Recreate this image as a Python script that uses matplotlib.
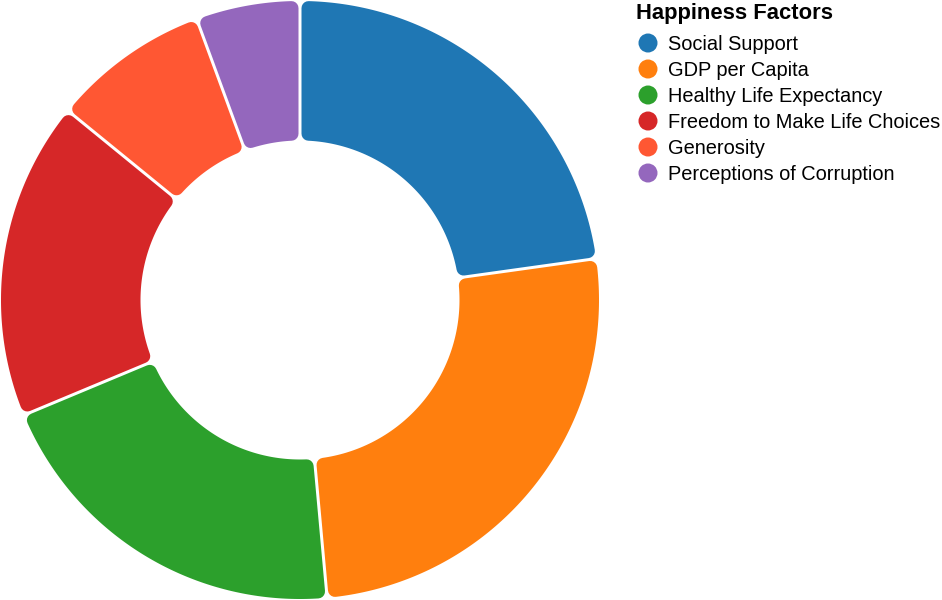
import numpy as np
import matplotlib.pyplot as plt
from matplotlib.patches import Polygon

labels = ["Social Support", "GDP per Capita", "Healthy Life Expectancy",
          "Freedom to Make Life Choices", "Generosity", "Perceptions of Corruption"]
values = [1.30, 1.47, 1.15, 0.98, 0.485, 0.32]
colors = ["#1f77b4", "#ff7f0e", "#2ca02c", "#d62728", "#ff5733", "#9467bd"]
legend_title = "Happiness Factors"

R_OUT = 299
R_IN = 159.5
CORNER = 7
GAP = 3


def rounded_sector(a1, a2, color):
    # a1, a2: clockwise degrees from 12 o'clock
    phi_hi = np.radians(90 - a1)
    phi_lo = np.radians(90 - a2)
    ro = R_OUT - CORNER
    ri = R_IN + CORNER
    d = GAP / 2 + CORNER
    do = np.arcsin(d / ro)
    di = np.arcsin(d / ri)
    t_out = np.linspace(phi_hi - do, phi_lo + do, 120)
    t_in = np.linspace(phi_lo + di, phi_hi - di, 80)
    xs = np.concatenate([ro * np.cos(t_out), ri * np.cos(t_in)])
    ys = np.concatenate([ro * np.sin(t_out), ri * np.sin(t_in)])
    return Polygon(np.column_stack([xs, ys]), closed=True, facecolor=color,
                   edgecolor=color, linewidth=2 * CORNER * 0.72, joinstyle="round")


fig = plt.figure(figsize=(9.42, 6), dpi=100)
ax = fig.add_axes([0, 0, 600 / 942, 1])
ax.set_xlim(-300, 300)
ax.set_ylim(-300, 300)
ax.set_aspect("equal")
ax.axis("off")

total = sum(values)
start = 0.0
for v, c in zip(values, colors):
    span = v / total * 360
    ax.add_patch(rounded_sector(start, start + span, c))
    start += span

# legend drawn in pixel space
lax = fig.add_axes([0, 0, 1, 1])
lax.set_xlim(0, 942)
lax.set_ylim(600, 0)
lax.axis("off")
lax.text(636, 19, legend_title, fontsize=15.8, fontweight="bold",
         family="Liberation Sans", va="baseline", ha="left")
for i, (lab, c) in enumerate(zip(labels, colors)):
    y = 43 + i * 26
    lax.scatter([648], [y], s=(19 * 0.72) ** 2, color=c, edgecolors="none")
    lax.text(668, y + 1, lab, fontsize=14.4, family="Liberation Sans",
             va="center", ha="left")

fig.savefig("out.png", dpi=100)
